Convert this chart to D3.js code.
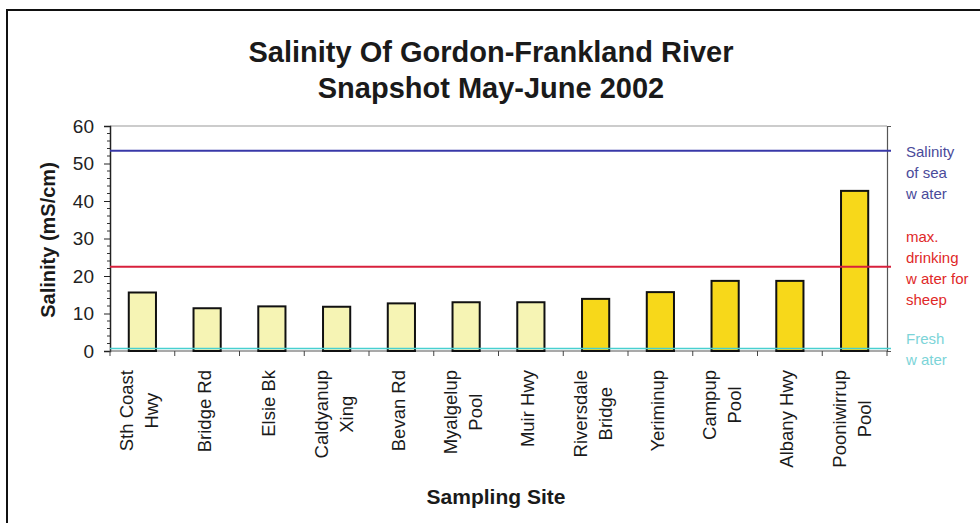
<!DOCTYPE html>
<html><head><meta charset="utf-8">
<script src="https://cdn.jsdelivr.net/npm/d3@7"></script>
<style>body{margin:0;background:#fff}svg{display:block}text{font-family:"Liberation Sans",Arial,sans-serif}</style>
</head><body>
<svg id="c" width="980" height="523"></svg>
<script>
const categories = ["Sth Coast Hwy","Bridge Rd","Elsie Bk","Caldyanup Xing","Bevan Rd","Myalgelup Pool","Muir Hwy","Riversdale Bridge","Yeriminup","Campup Pool","Albany Hwy","Pooniwirrup Pool"];
const labelLines = [["Sth Coast","Hwy"],["Bridge Rd"],["Elsie Bk"],["Caldyanup","Xing"],["Bevan Rd"],["Myalgelup","Pool"],["Muir Hwy"],["Riversdale","Bridge"],["Yeriminup"],["Campup","Pool"],["Albany Hwy"],["Pooniwirrup","Pool"]];
const salinity = [15.6, 11.4, 11.9, 11.8, 12.7, 13.0, 13.0, 13.9, 15.7, 18.7, 18.7, 42.7];
const group = ["low","low","low","low","low","low","low","high","high","high","high","high"];
const yTicks = [0,10,20,30,40,50,60];
const refValues = [53.4, 22.5, 0.7];
const refNames = ["sea","sheep","fresh"];
const refLabels = [["Salinity","of sea","w ater"],["max.","drinking","w ater for","sheep"],["Fresh","w ater"]];
const titleLines = ["Salinity Of Gordon-Frankland River","Snapshot May-June 2002"];

const svg = d3.select("#c");
const L = 110, R = 887, T = 126, B = 351;
const x = d3.scaleBand().domain(categories).range([L, R]).paddingInner(0.58).paddingOuter(0.29);
const y = d3.scaleLinear().domain([0, 60]).range([B, T]);
const fill = d3.scaleOrdinal().domain(["low","high"]).range(["#f6f4b4","#f7d81a"]);
const refColor = d3.scaleOrdinal().domain(refNames).range(["#3838a8","#d8203c","#48d0d0"]);
const refTextColor = d3.scaleOrdinal().domain(refNames).range(["#4a4a9a","#e02828","#7cd4d8"]);

// outer frame
svg.append("path").attr("d", `M7,523 V10 H980`).attr("fill","none").attr("stroke","#111").attr("stroke-width",2);

// title
svg.selectAll(".title").data(titleLines).join("text")
  .attr("x", 491).attr("y", (d,i) => 62 + i*36)
  .attr("text-anchor","middle").attr("font-size", 29).attr("font-weight","bold").attr("fill","#1a1a1a")
  .text(d => d);

// plot frame top
svg.append("line").attr("x1",L).attr("x2",R).attr("y1",T).attr("y2",T).attr("stroke","#999").attr("stroke-width",1);

// minor ticks left
const minor = d3.range(0, 61, 2).filter(v => v % 10 !== 0);
svg.selectAll(".minor").data(minor).join("line")
  .attr("x1", L-3).attr("x2", L).attr("y1", d => y(d)).attr("y2", d => y(d)).attr("stroke","#333");

// y axis
const ya = svg.append("g").attr("transform",`translate(${L},0)`)
  .call(d3.axisLeft(y).tickValues(yTicks).tickSize(6).tickPadding(10));
ya.select(".domain").attr("stroke","#222").attr("stroke-width",1.5);
ya.selectAll(".tick line").attr("stroke","#222");
ya.selectAll(".tick text").attr("font-size",19).attr("fill","#222").style("font-family","Liberation Sans, Arial, sans-serif");

// right axis
const yr = svg.append("g").attr("transform",`translate(${R},0)`)
  .call(d3.axisRight(y).tickValues([0,60]).tickSize(4).tickFormat(""));
yr.select(".domain").attr("stroke","#555").attr("stroke-width",1.2);
yr.selectAll(".tick line").attr("stroke","#555");

// x axis
const bounds = categories.map((c,i) => L + i*x.step()).concat([R]);
svg.append("line").attr("x1",L).attr("x2",R).attr("y1",B).attr("y2",B).attr("stroke","#555").attr("stroke-width",1.2);
svg.selectAll(".xt").data(bounds).join("line")
  .attr("x1", d => d).attr("x2", d => d).attr("y1", B).attr("y2", B+5).attr("stroke","#444");

// bars
svg.selectAll(".bar").data(categories).join("rect")
  .attr("x", d => x(d)).attr("width", x.bandwidth())
  .attr("y", (d,i) => y(salinity[i])).attr("height", (d,i) => y(0) - y(salinity[i]))
  .attr("fill", (d,i) => fill(group[i])).attr("stroke","#111").attr("stroke-width",2);

// reference lines
svg.selectAll(".ref").data(refNames).join("line")
  .attr("x1", L).attr("x2", R+4).attr("y1", (d,i) => y(refValues[i])).attr("y2", (d,i) => y(refValues[i]))
  .attr("stroke", d => refColor(d)).attr("stroke-width", (d,i) => i === 2 ? 1.5 : 2);

// ref labels
const refLabelTop = [157, 242, 344];
refNames.forEach((n,i) => {
  svg.append("g").selectAll("text").data(refLabels[i]).join("text")
    .attr("x", 906).attr("y", (d,k) => refLabelTop[i] + k*21)
    .attr("font-size", 15).attr("fill", refTextColor(n)).text(d => d);
});

// category labels
categories.forEach((c,i) => {
  const cx = x(c) + x.bandwidth()/2;
  const lines = labelLines[i];
  const t = svg.append("text").attr("font-size",18.5).attr("fill","#1a1a1a").attr("text-anchor","middle");
  lines.forEach((ln,k) => {
    t.append("tspan").attr("x",0).attr("y", (k - (lines.length-1)/2)*25).attr("dominant-baseline","central").text(ln);
  });
  let w = 0;
  t.selectAll("tspan").each(function(){ w = Math.max(w, this.getComputedTextLength()); });
  t.attr("transform", `translate(${cx-3},${370 + w/2}) rotate(-90)`);
});

// axis titles
svg.append("text").attr("transform","translate(48,240) rotate(-90)").attr("dy","0.35em")
  .attr("text-anchor","middle").attr("font-size",20).attr("font-weight","bold").attr("fill","#1a1a1a")
  .text("Salinity (mS/cm)");
svg.append("text").attr("x",496).attr("y",504).attr("text-anchor","middle")
  .attr("font-size",21).attr("font-weight","bold").attr("fill","#1a1a1a").text("Sampling Site");
</script>
</body></html>
